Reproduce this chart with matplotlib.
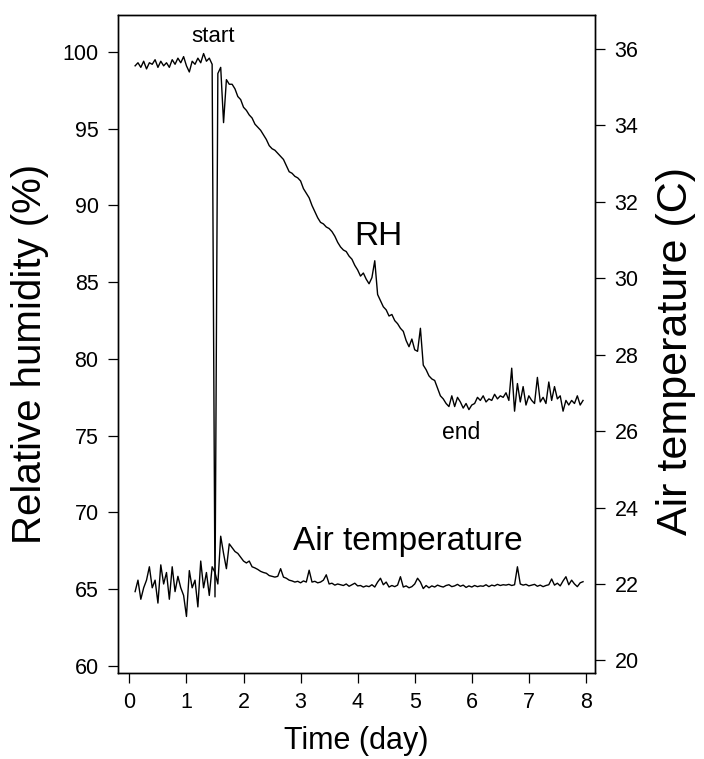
import numpy as np
import matplotlib.pyplot as plt

plt.rcParams['font.family'] = ['Liberation Sans', 'DejaVu Sans']

# Readings every 0.05 day, from day 0.10 to day 7.95
day = np.round(np.arange(0.10, 7.951, 0.05), 2)

# Relative humidity (%)
rh = [
    99.1, 99.3, 99.0, 99.4, 98.9, 99.3, 99.2, 99.5, 99.0, 99.4,
    99.1, 99.3, 99.0, 99.5, 99.2, 99.6, 99.3, 99.7, 99.1, 98.7,
    99.4, 99.2, 99.6, 99.3, 99.9, 99.4, 99.6, 99.2, 64.5, 98.6,
    99.0, 95.4, 98.2, 97.9, 97.9, 97.6, 97.1, 96.9, 96.4, 96.2,
    95.9, 95.7, 95.3, 95.1, 94.9, 94.6, 94.3, 93.9, 93.7, 93.6,
    93.4, 93.2, 93.0, 92.6, 92.2, 92.1, 91.9, 91.8, 91.6, 91.1,
    90.8, 90.5, 90.0, 89.6, 89.2, 88.9, 88.8, 88.6, 88.5, 88.3,
    88.0, 87.6, 87.3, 87.1, 87.0, 86.7, 86.5, 86.1, 85.8, 85.4,
    85.6, 85.2, 84.9, 85.3, 86.4, 84.2, 83.8, 83.4, 83.2, 82.8,
    82.9, 82.5, 82.3, 82.0, 81.8, 81.2, 80.8, 81.3, 80.6, 80.5,
    82.0, 79.6, 79.3, 78.9, 78.7, 78.6, 78.1, 77.6, 77.4, 77.1,
    76.9, 77.6, 76.9, 77.5, 77.2, 76.8, 77.1, 76.7, 77.0, 77.1,
    77.5, 77.3, 77.6, 77.2, 77.4, 77.3, 77.7, 77.4, 77.6, 77.5,
    77.8, 77.3, 79.4, 76.6, 78.4, 77.2, 78.2, 77.0, 77.6, 77.3,
    77.1, 78.8, 77.2, 77.5, 77.1, 78.5, 77.3, 78.2, 77.4, 77.6,
    76.6, 77.3, 77.0, 77.3, 77.1, 77.6, 77.0, 77.3,
]

# Air temperature (C)
temp = [
    21.8, 22.1, 21.6, 21.9, 22.1, 22.45, 21.9, 22.1, 21.5, 22.5,
    22.0, 22.3, 21.6, 22.45, 21.8, 22.2, 21.9, 21.7, 21.15, 22.35,
    21.9, 22.1, 21.4, 22.6, 21.9, 22.3, 21.7, 22.45, 22.3, 22.0,
    23.25, 22.8, 22.4, 23.05, 22.95, 22.85, 22.8, 22.7, 22.6, 22.55,
    22.6, 22.45, 22.42, 22.38, 22.33, 22.3, 22.28, 22.22, 22.2, 22.18,
    22.2, 22.4, 22.18, 22.15, 22.1, 22.08, 22.05, 22.07, 22.03, 22.08,
    22.05, 22.36, 22.05, 22.07, 22.03, 22.05, 22.1, 22.24, 22.0, 22.02,
    21.97, 22.0, 21.98, 21.96, 22.0, 21.94, 21.98, 22.02, 21.95, 21.96,
    21.92, 21.95, 21.93, 21.98, 21.92, 22.05, 22.15, 21.98, 22.05, 21.92,
    21.96, 21.93, 21.97, 22.19, 21.92, 21.95, 21.9, 21.93, 22.0, 22.15,
    22.05, 21.88, 21.96, 21.9, 21.95, 21.92, 21.97, 21.94, 21.92, 21.96,
    21.98, 21.93, 21.95, 21.99, 21.94, 21.97, 21.91, 21.95, 21.92, 21.96,
    21.93, 21.95, 21.94, 21.98, 21.93, 21.97, 21.95, 21.99, 21.96, 21.98,
    21.97, 21.99, 21.96, 21.98, 22.45, 22.0, 21.97, 21.99, 21.95, 21.97,
    21.99, 21.94, 21.97, 21.93, 21.96, 21.98, 22.13, 21.97, 22.02, 21.95,
    22.08, 22.19, 21.98, 22.1, 22.0, 21.93, 22.03, 22.06,
]

x_ticks = [0, 1, 2, 3, 4, 5, 6, 7, 8]
rh_ticks = [60, 65, 70, 75, 80, 85, 90, 95, 100]
temp_ticks = [20, 22, 24, 26, 28, 30, 32, 34, 36]

fig = plt.figure(figsize=(7.04, 7.59), dpi=100)
ax = fig.add_axes([0.1676, 0.1133, 0.6776, 0.8669])
ax2 = ax.twinx()

ax.plot(day, rh, color="k", linewidth=1.0)
ax2.plot(day, temp, color="k", linewidth=1.0)

ax.set_xlim(-0.2, 8.16)
ax.set_ylim(59.54, 102.41)
ax2.set_ylim(19.67, 36.89)

ax.set_xticks(x_ticks)
ax.set_yticks(rh_ticks)
ax2.set_yticks(temp_ticks)
for a in (ax, ax2):
    a.tick_params(direction="out", length=7, width=0.9, labelsize=15.5, pad=7)
    for s in a.spines.values():
        s.set_linewidth(1.0)

ax.set_xlabel("Time (day)", fontsize=22)
ax.xaxis.set_label_coords(0.5, -0.08)
ax.set_ylabel("Relative humidity (%)", fontsize=29, va="center")
ax.yaxis.set_label_coords(-0.185, 0.485)
ax2.set_ylabel("Air temperature (C)", fontsize=31, va="center")
ax2.yaxis.set_label_coords(1.17, 0.49)

ax.text(1.47, 101.0, "start", fontsize=16, ha="center", va="center")
ax.text(5.81, 75.2, "end", fontsize=16.5, ha="center", va="center")
ax.text(4.37, 88.0, "RH", fontsize=24, ha="center", va="center")
ax.text(4.88, 68.1, "Air temperature", fontsize=24, ha="center", va="center")

fig.savefig("out.png", dpi=100)
